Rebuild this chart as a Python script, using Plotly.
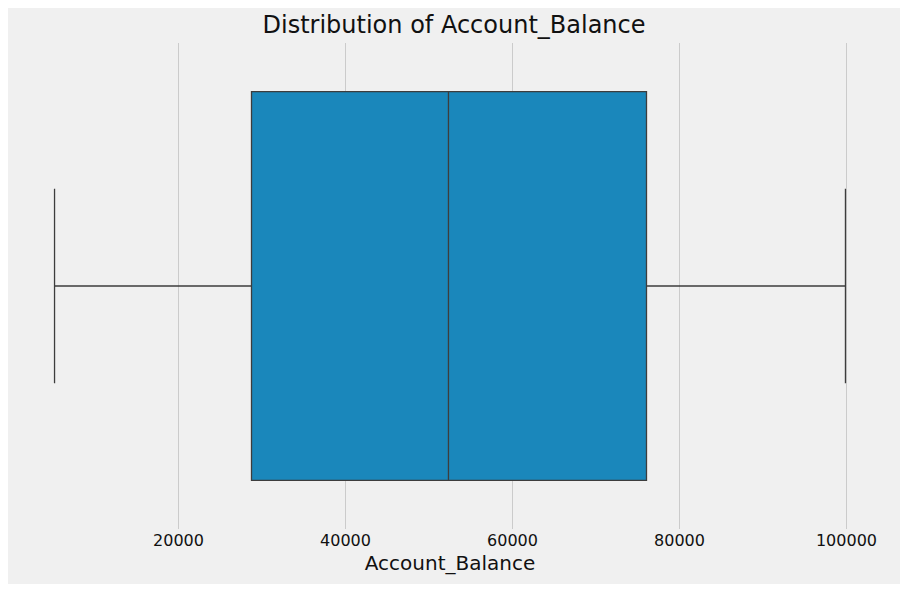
import plotly.graph_objects as go

categories = [0]
q1 = [28740]
median = [52330]
q3 = [76050]
lower = [5150]
upper = [99880]
tick_vals = [20000, 40000, 60000, 80000, 100000]

fig = go.Figure(go.Box(
    y=categories, q1=q1, median=median, q3=q3, lowerfence=lower, upperfence=upper,
    orientation="h", width=0.8, whiskerwidth=0.5,
    fillcolor="#1a87bb", line=dict(color="#3d3d3d", width=1.3),
    boxpoints=False, hoverinfo="skip"))

fig.update_layout(
    width=892, height=576, margin=dict(l=7, r=15, t=35, b=55),
    paper_bgcolor="#f0f0f0", plot_bgcolor="#f0f0f0", showlegend=False,
    font=dict(family="DejaVu Sans", color="#111"),
    title=dict(text="Distribution of Account_Balance", x=0.5, xanchor="center",
               y=0.972, yanchor="middle", font=dict(size=24, color="#111")),
    xaxis=dict(range=[414, 104616], tickvals=tick_vals, tickformat="d", showgrid=True,
               gridcolor="#cbcbcb", gridwidth=1, zeroline=False, ticks="",
               tickfont=dict(size=16), title=dict(text="Account_Balance", font=dict(size=20), standoff=6)),
    yaxis=dict(range=[-0.5, 0.5], showticklabels=False, showgrid=False, zeroline=False),
)
fig.write_html("out.html")
